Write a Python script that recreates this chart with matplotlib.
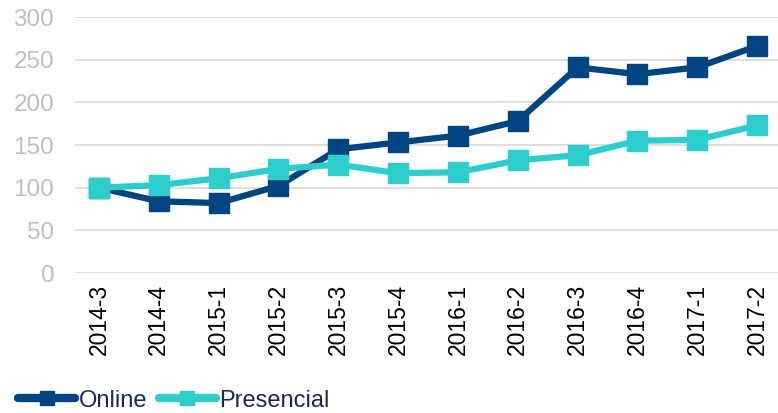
import matplotlib
matplotlib.use('Agg')
import matplotlib.pyplot as plt
from matplotlib.lines import Line2D

plt.rcParams["font.family"] = ["Liberation Sans", "DejaVu Sans"]

quarters = ['2014-3', '2014-4', '2015-1', '2015-2', '2015-3', '2015-4',
            '2016-1', '2016-2', '2016-3', '2016-4', '2017-1', '2017-2']
online = [100, 84, 82, 102, 145, 153, 161, 178, 241, 233, 241, 266]
presencial = [100, 103, 111, 122, 127, 117, 118, 132, 138, 155, 156, 173]

c_online = '#004481'
c_pres = '#2DCCCD'

fig = plt.figure(figsize=(7.78, 4.13), dpi=100)
ax = fig.add_axes([75 / 778, 1 - 273 / 413, 703 / 778, 256 / 413])

x = range(len(quarters))
ax.plot(x, online, color=c_online, lw=4.5, marker='s', ms=14, zorder=3)
ax.plot(x, presencial, color=c_pres, lw=4.5, marker='s', ms=14, zorder=4)

ax.set_ylim(0, 300)
ax.set_yticks(range(0, 301, 50))
ax.set_xlim(-0.4, 11.35)
ax.set_xticks(list(x))
ax.set_xticklabels(quarters, rotation=90)
ax.grid(axis='y', color='#d9d9d9', lw=1.2)
ax.set_axisbelow(True)
for s in ax.spines.values():
    s.set_visible(False)
ax.tick_params(axis='both', length=0)
ax.tick_params(axis='y', labelsize=17.5, labelcolor='#bfbfbf', pad=15)
ax.tick_params(axis='x', labelsize=16.5, labelcolor='#000000', pad=8)

handles = [Line2D([], [], color=c_online, lw=6, marker='s', ms=10, solid_capstyle='round'),
           Line2D([], [], color=c_pres, lw=6, marker='s', ms=10, solid_capstyle='round')]
ax.legend(handles, ['Online', 'Presencial'], loc='lower left', bbox_to_anchor=(-0.094, -0.578),
          ncol=2, frameon=False, fontsize=17, handlelength=2.4, handletextpad=0.15,
          columnspacing=0.5, labelcolor='#1a2b4a', borderaxespad=0)

fig.savefig('out.png', dpi=100)
